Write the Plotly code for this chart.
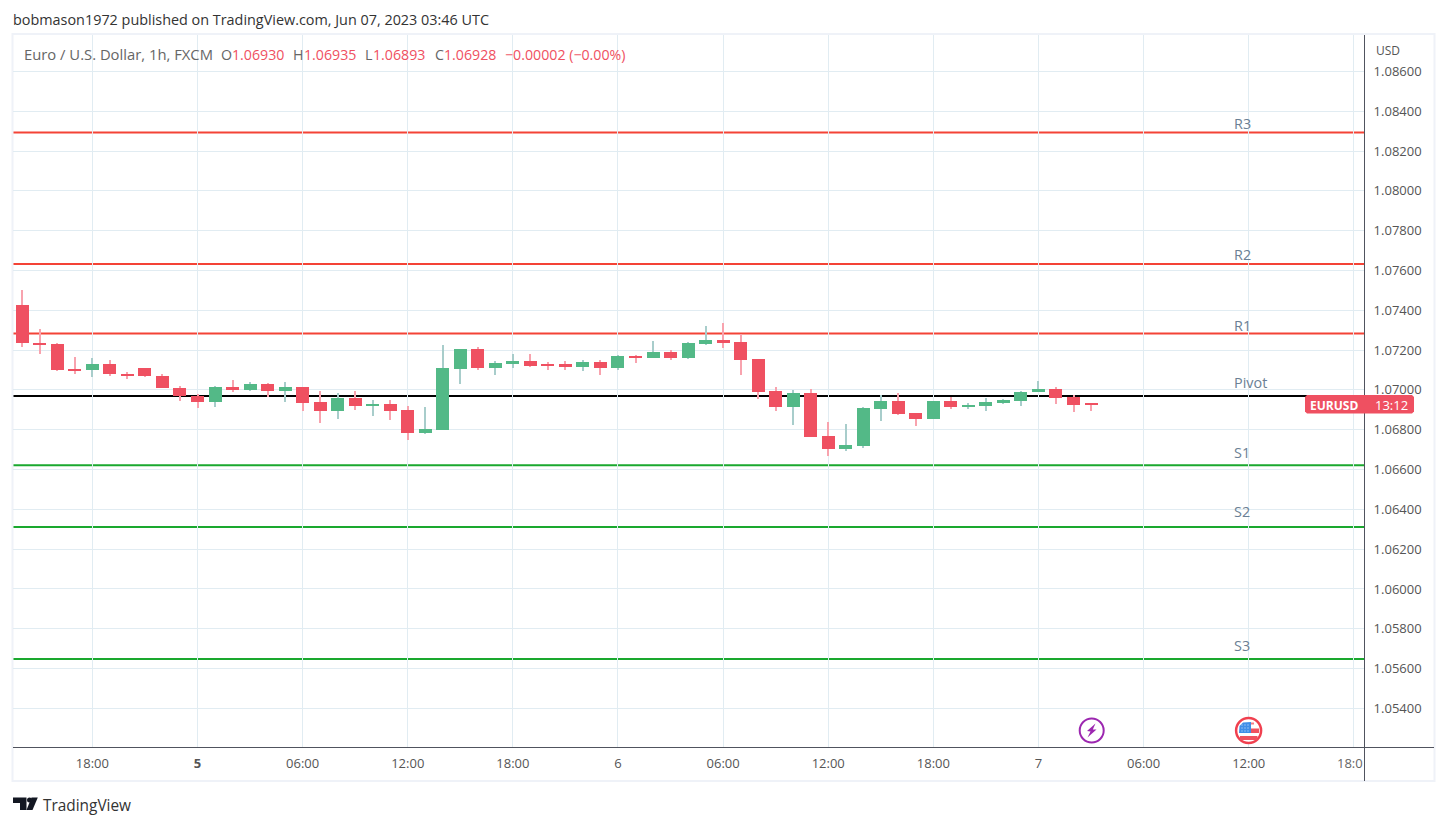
import pandas as pd
import plotly.graph_objects as go

# EUR/USD 1h candles
start = "2023-06-04 14:00"
opens = [1.07425, 1.07238, 1.07233, 1.07102, 1.07099, 1.07128, 1.07082, 1.07112, 1.07072, 1.07012,
         1.06971, 1.06938, 1.07017, 1.07002, 1.07032, 1.06997, 1.07017, 1.06941, 1.06896, 1.06961,
         1.06921, 1.06931, 1.06901, 1.06785, 1.06800, 1.07107, 1.07208, 1.07112, 1.07128, 1.07143,
         1.07128, 1.07128, 1.07117, 1.07138, 1.07112, 1.07168, 1.07158, 1.07188, 1.07158, 1.07233,
         1.07253, 1.07243, 1.07153, 1.06997, 1.06916, 1.06982, 1.06770, 1.06705, 1.06720, 1.06906,
         1.06946, 1.06886, 1.06856, 1.06946, 1.06916, 1.06921, 1.06936, 1.06946, 1.06987, 1.07007,
         1.06966, 1.06930]
highs = [1.07500, 1.07304, 1.07238, 1.07163, 1.07158, 1.07148, 1.07092, 1.07112, 1.07082, 1.07022,
         1.06977, 1.07022, 1.07052, 1.07042, 1.07037, 1.07042, 1.07017, 1.06997, 1.06982, 1.06997,
         1.06951, 1.06951, 1.06921, 1.06916, 1.07228, 1.07208, 1.07218, 1.07143, 1.07178, 1.07178,
         1.07138, 1.07143, 1.07148, 1.07148, 1.07173, 1.07173, 1.07248, 1.07198, 1.07243, 1.07319,
         1.07334, 1.07279, 1.07153, 1.07017, 1.07002, 1.07007, 1.06841, 1.06831, 1.06916, 1.06972,
         1.06982, 1.06886, 1.06946, 1.06966, 1.06936, 1.06961, 1.06956, 1.06997, 1.07047, 1.07017,
         1.06972, 1.06935]
lows = [1.07215, 1.07180, 1.07094, 1.07079, 1.07064, 1.07069, 1.07054, 1.07064, 1.07008, 1.06943,
        1.06908, 1.06913, 1.06987, 1.06997, 1.06966, 1.06941, 1.06896, 1.06836, 1.06856, 1.06901,
        1.06871, 1.06851, 1.06750, 1.06780, 1.06800, 1.07032, 1.07102, 1.07077, 1.07112, 1.07117,
        1.07102, 1.07102, 1.07097, 1.07077, 1.07102, 1.07133, 1.07158, 1.07148, 1.07153, 1.07228,
        1.07213, 1.07077, 1.06956, 1.06896, 1.06826, 1.06765, 1.06669, 1.06695, 1.06710, 1.06846,
        1.06876, 1.06820, 1.06856, 1.06906, 1.06906, 1.06896, 1.06931, 1.06921, 1.06987, 1.06931,
        1.06891, 1.06893]
closes = [1.07235, 1.07230, 1.07099, 1.07099, 1.07128, 1.07079, 1.07069, 1.07069, 1.07008, 1.06968,
          1.06938, 1.07017, 1.07002, 1.07032, 1.06997, 1.07017, 1.06936, 1.06896, 1.06961, 1.06921,
          1.06931, 1.06896, 1.06785, 1.06805, 1.07112, 1.07208, 1.07112, 1.07133, 1.07143, 1.07122,
          1.07122, 1.07117, 1.07138, 1.07112, 1.07168, 1.07158, 1.07188, 1.07158, 1.07238, 1.07253,
          1.07238, 1.07148, 1.06992, 1.06916, 1.06982, 1.06765, 1.06705, 1.06725, 1.06911, 1.06946,
          1.06881, 1.06856, 1.06946, 1.06916, 1.06926, 1.06941, 1.06951, 1.06992, 1.07007, 1.06961,
          1.06926, 1.06928]

level_names = ["R3", "R2", "R1", "Pivot", "S1", "S2", "S3"]
level_values = [1.08293, 1.07633, 1.07283, 1.06969, 1.06622, 1.06311, 1.05648]
level_colors = ["#f44336", "#f44336", "#f44336", "#000000", "#1aa82e", "#1aa82e", "#1aa82e"]
label_shifts = [-2, -2, -3, 2, 1, 4, 2]

price_ticks = [1.054, 1.056, 1.058, 1.060, 1.062, 1.064, 1.066, 1.068, 1.070, 1.072, 1.074, 1.076,
               1.078, 1.080, 1.082, 1.084, 1.086]
time_ticks = ["2023-06-04 18:00", "2023-06-05 00:00", "2023-06-05 06:00", "2023-06-05 12:00",
              "2023-06-05 18:00", "2023-06-06 00:00", "2023-06-06 06:00", "2023-06-06 12:00",
              "2023-06-06 18:00", "2023-06-07 00:00", "2023-06-07 06:00", "2023-06-07 12:00",
              "2023-06-07 18:00"]
time_labels = ["18:00", "<b>5</b>", "06:00", "12:00", "18:00", "6", "06:00", "12:00", "18:00", "7",
               "06:00", "12:00", ""]

WIDTH, HEIGHT = 1447, 826
L, R, T, B = 13, 1364, 35, 747
RED, GREEN = "#ef5061", "#53b987"
RED_WICK, GREEN_WICK = "#f8a3ae", "#a8cdcb"
FONT = "Open Sans"

times = pd.date_range(start, periods=len(opens), freq="h")
hour_ms = 3600 * 1000
body_colors = [GREEN if c > o else RED for o, c in zip(opens, closes)]
wick_colors = [GREEN_WICK if c > o else RED_WICK for o, c in zip(opens, closes)]


# helpers for the page furniture, which is placed in pixels
def px(x):
    return (x - L) / (R - L)


def py(y):
    return (B - y) / (B - T)


def poly(points):
    return "M" + " L".join(f"{px(x)},{py(y)}" for x, y in points) + " Z"


def paper_shape(kind, **kw):
    return dict(type=kind, xref="paper", yref="paper", **kw)


def circle(cx, cy, r, **kw):
    return paper_shape("circle", x0=px(cx - r), x1=px(cx + r), y0=py(cy + r), y1=py(cy - r), **kw)


def rect(x0, y0, x1, y1, color):
    return paper_shape("rect", x0=px(x0), x1=px(x1), y0=py(y1), y1=py(y0), fillcolor=color, line_width=0)


def text(x, y, s, size=13, color="#555555", anchor="left"):
    # annotations pad their text by about 2px
    x = x - 2 if anchor == "left" else x + 2
    return dict(xref="paper", yref="paper", x=px(x), y=py(y), text=s, showarrow=False, xanchor=anchor,
                yanchor="middle", align=anchor, font=dict(size=size, color=color, family=FONT))


fig = go.Figure()
fig.add_trace(go.Bar(x=times, y=[h - l for h, l in zip(highs, lows)], base=lows, width=1.0 / 17.52 * hour_ms,
                     marker=dict(color=wick_colors, line_width=0), hoverinfo="skip"))
fig.add_trace(go.Bar(x=times, y=[abs(c - o) for o, c in zip(opens, closes)],
                     base=[min(o, c) for o, c in zip(opens, closes)], width=13 / 17.52 * hour_ms,
                     marker=dict(color=body_colors, line_width=0)))

shapes = []
for value, color in zip(level_values, level_colors):
    shapes.append(dict(type="line", xref="paper", x0=0, x1=1, yref="y", y0=value, y1=value, layer="below",
                       line=dict(color=color, width=2)))

# outer frame and axis lines
frame = "#eff2f8"
shapes += [
    paper_shape("rect", x0=px(12.5), x1=px(1434.5), y0=py(781), y1=py(34), line=dict(color=frame, width=2), layer="below"),
    paper_shape("line", x0=px(1364.5), x1=px(1364.5), y0=py(781), y1=py(T), line=dict(color="#50535e", width=1)),
    paper_shape("line", x0=px(L), x1=px(1434), y0=py(747.5), y1=py(747.5), line=dict(color="#50535e", width=1)),
]

# price tag
tag_l, tag_r, tag_t, tag_b, c = 1305, 1414, 395, 413.5, 2
shapes.append(paper_shape("path", fillcolor=RED, line_width=0, path=poly([
    (tag_l + c, tag_t), (tag_r - c, tag_t), (tag_r, tag_t + c), (tag_r, tag_b - c),
    (tag_r - c, tag_b), (tag_l + c, tag_b), (tag_l, tag_b - c), (tag_l, tag_t + c)])))

# lightning icon
shapes.append(circle(1091.7, 730.5, 12, fillcolor="white", line=dict(color="#9c27b0", width=2)))
shapes.append(paper_shape("path", fillcolor="#9c27b0", line_width=0, path=poly([
    (1095.5, 723.5), (1087, 731), (1090.5, 731.5), (1087.5, 737.5), (1096.5, 729.5), (1092.8, 729.5)])))

# US flag icon
shapes.append(circle(1248.6, 730.5, 12.5, fillcolor="white", line=dict(color="#f0404f", width=2.5)))
shapes.append(paper_shape("path", fillcolor="#3f8fe8", line_width=0, path=poly([
    (1239, 733), (1239.5, 726), (1243, 722.5), (1251, 722), (1251, 733)])))
for dot_x in (1241.5, 1244.5, 1247.5):
    for dot_y in (724.5, 727.5, 730.5):
        shapes.append(rect(dot_x, dot_y, dot_x + 1, dot_y + 1, "#d5e6fa"))
shapes.append(rect(1251, 722.5, 1254, 724.5, "#f47c86"))
shapes.append(rect(1251, 728.5, 1259, 733, "#f0525f"))
shapes.append(rect(1240, 736, 1257.5, 740, "#f0525f"))

# TradingView logo
shapes.append(paper_shape("path", fillcolor="#131722", line_width=0, path=poly([
    (13, 797.5), (26.5, 797.5), (26.5, 810), (20, 810), (20, 803), (13, 803)])))
shapes.append(circle(29.5, 800, 2.5, fillcolor="#131722", line_width=0))
shapes.append(paper_shape("path", fillcolor="#131722", line_width=0, path=poly([
    (31.5, 797.5), (37.8, 797.5), (32.5, 810), (26.5, 810)])))

annotations = [
    text(13, 19.5, "bobmason1972 published on TradingView.com, Jun 07, 2023 03:46 UTC", 14.4, "#333333"),
    text(23.5, 54, "Euro / U.S. Dollar, 1h, FXCM", 14.8, "#666666"),
    text(221.5, 54, "O", 14.2, "#666666"),
    text(232, 54, "1.06930", 14.2, RED),
    text(293, 54, "H", 14.2, "#666666"),
    text(303.5, 54, "1.06935", 14.2, RED),
    text(365, 54, "L", 14.2, "#666666"),
    text(373, 54, "1.06893", 14.2, RED),
    text(434.5, 54, "C", 14.2, "#666666"),
    text(444, 54, "1.06928", 14.2, RED),
    text(505, 54, "−0.00002 (−0.00%)", 14.2, RED),
    text(1376, 50, "USD", 12, "#555555"),
    text(1363, 763, "18:0", 13, "#666666", anchor="right"),
    text(43, 805, "TradingView", 15.4, "#333333"),
    text(1310, 405, "<b>EURUSD</b>", 12, "white"),
    text(1408, 405, "13:12", 13, "white", anchor="right"),
]
for name, value, shift in zip(level_names, level_values, label_shifts):
    annotations.append(dict(x=times[0] + pd.Timedelta(hours=69.06), y=value, xref="x", yref="y", text=name,
                            showarrow=False, xanchor="left", yanchor="bottom", yshift=shift,
                            font=dict(size=14.4, color="#6b7f94", family=FONT)))

fig.update_layout(
    width=WIDTH, height=HEIGHT, autosize=False,
    margin=dict(l=L, r=WIDTH - R, t=T, b=HEIGHT - B, pad=0),
    paper_bgcolor="white", plot_bgcolor="white",
    barmode="overlay", bargap=0, showlegend=False,
    shapes=shapes, annotations=annotations,
    font=dict(family=FONT, size=13, color="#555555"),
    xaxis=dict(type="date", range=[times[0] - pd.Timedelta(hours=0.531), times[0] + pd.Timedelta(hours=76.58)],
               tickmode="array", tickvals=time_ticks, ticktext=time_labels, tickangle=0,
               showgrid=True, gridcolor="#e1ecf2", gridwidth=1, zeroline=False, showline=False,
               ticks="outside", ticklen=4, tickcolor="rgba(0,0,0,0)"),
    yaxis=dict(side="right", range=[1.05206, 1.08783], tickmode="array", tickvals=price_ticks,
               ticktext=[f"{p:.5f}" for p in price_ticks], showgrid=True, gridcolor="#e1ecf2", gridwidth=1,
               zeroline=False, showline=False, ticks="outside", ticklen=6, tickcolor="rgba(0,0,0,0)"),
)

fig.write_html("out.html", post_script="document.body.style.margin='0';", config=dict(displayModeBar=False))
